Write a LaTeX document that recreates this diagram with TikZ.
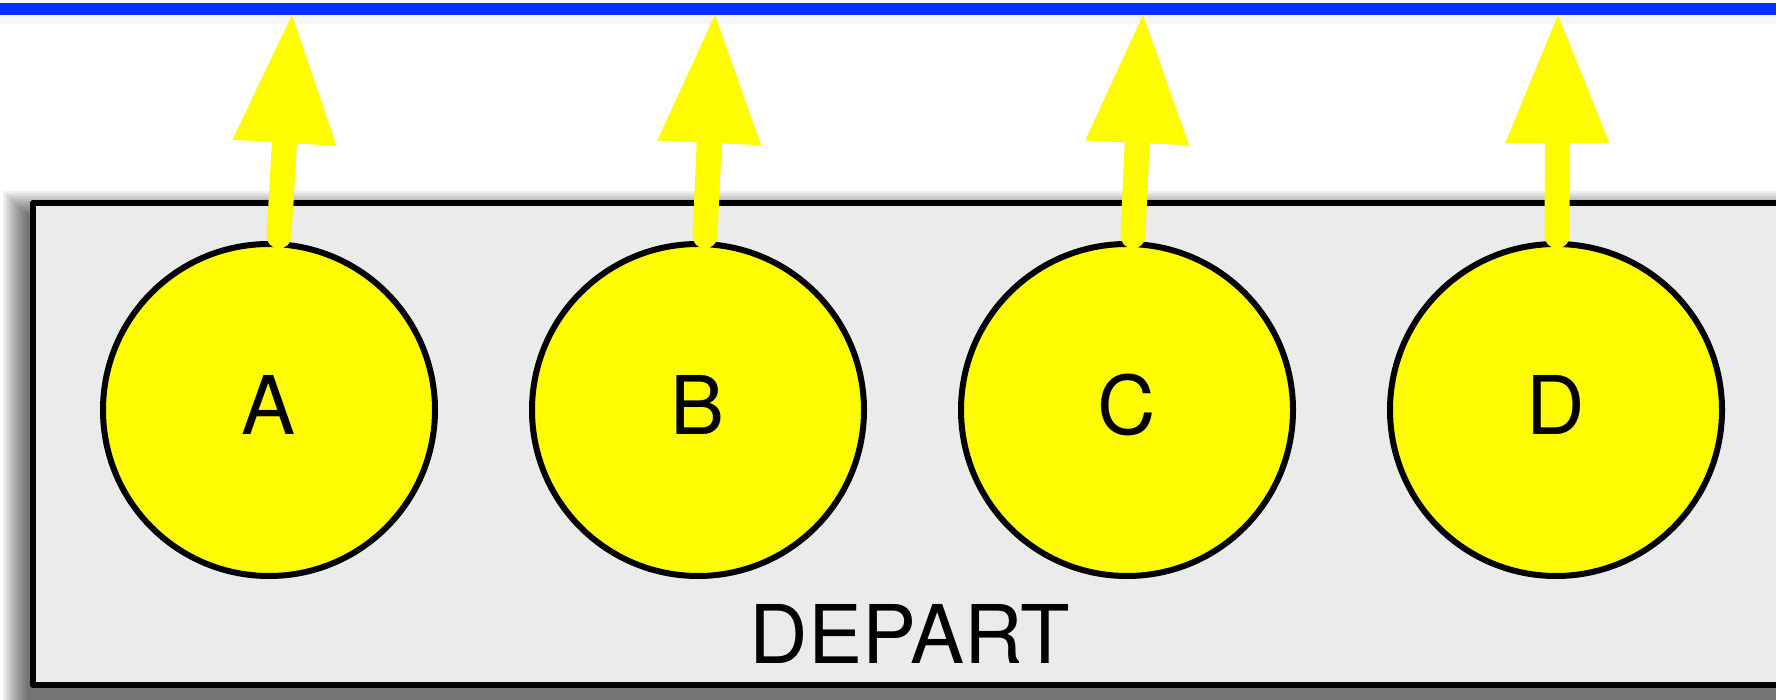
\documentclass[tikz,border=0pt]{standalone}
\usepackage{fontspec}
\setmainfont{TeX Gyre Heros}
\usepackage{tikz}
\usetikzlibrary{arrows.meta}

\definecolor{railblue}{RGB}{4,51,255}
\definecolor{jobyellow}{RGB}{255,251,0}
\definecolor{boxgray}{RGB}{235,235,235}

\tikzset{
  job/.style={circle,draw=black,line width=6pt,fill=jobyellow,minimum size=332pt,inner sep=0pt,
    font=\fontsize{81}{90}\selectfont,text height=50pt,text depth=0pt},
  push/.style={draw=jobyellow,line width=25pt,-{Triangle[length=128pt,width=104pt,line width=0pt]}}
}

\begin{document}
\begin{tikzpicture}[line cap=round,line join=round,x=1pt,y=1pt]
\useasboundingbox (0,0) rectangle (1776,699);

% soft shadows
\foreach \i in {0,2,...,24}
  \fill [black,opacity=0.06] (27-\i,-2-\i) rectangle (1800,484+\i);
\foreach \i in {1,...,9}
  \draw [black,opacity=0.035,line width=1pt,line cap=butt] (0,684-\i)-- (1776,684-\i);

\draw [line width=12pt,railblue,line cap=butt] (0,690)-- (1776,690);
\draw [line width=6pt,fill=boxgray] (33,14) rectangle (1810,496);

\node [job] (a) at (269,289) {A};
\node [job] (b) at (698,289) {B};
\node [job] (c) at (1127,289) {C};
\node [job] (d) at (1556,289) {D};
\node [font=\fontsize{81}{90}\selectfont,anchor=base] (depart) at (910,36) {DEPART};

\coordinate (railA) at (292,684);
\coordinate (railB) at (715,684);
\coordinate (railC) at (1143,684);
\coordinate (railD) at (1558,684);

\draw [push] ([xshift=10pt,yshift=5pt]a.north)-- (railA);
\draw [push] ([xshift=7pt,yshift=5pt]b.north)-- (railB);
\draw [push] ([xshift=6pt,yshift=5pt]c.north)-- (railC);
\draw [push] ([xshift=1pt,yshift=5pt]d.north)-- (railD);
\end{tikzpicture}
\end{document}
